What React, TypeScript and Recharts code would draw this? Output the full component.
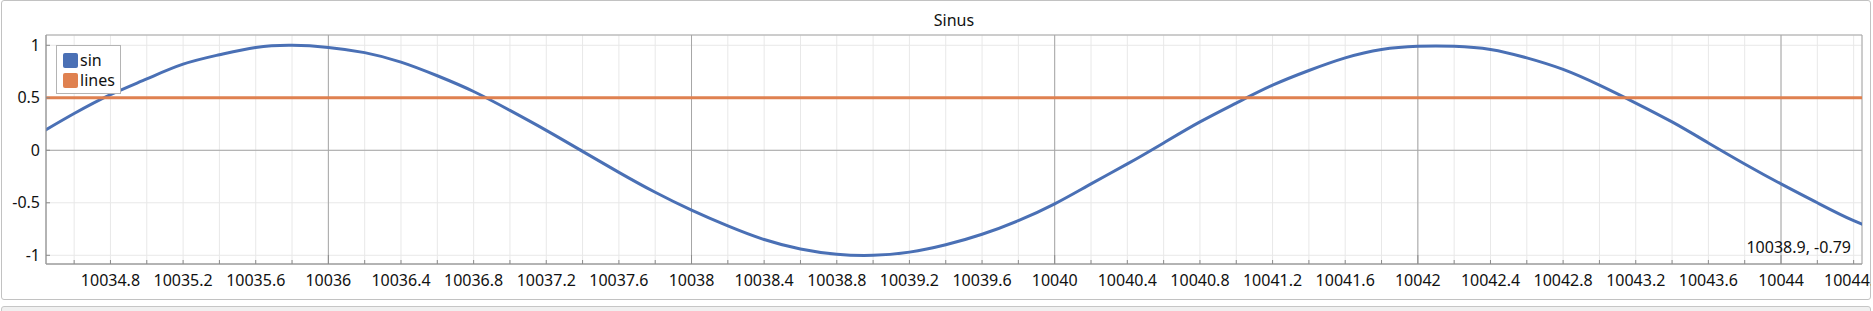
import React from "react";
import {
  LineChart,
  Line,
  XAxis,
  YAxis,
  CartesianGrid,
  ReferenceLine,
  ReferenceArea,
  Label,
  Legend,
} from "recharts";

// values
const xValues = [
  10034.4, 10034.6, 10034.8, 10035, 10035.2, 10035.4, 10035.6, 10035.8, 10036, 10036.2,
  10036.4, 10036.6, 10036.8, 10037, 10037.2, 10037.4, 10037.6, 10037.8, 10038, 10038.2,
  10038.4, 10038.6, 10038.8, 10039, 10039.2, 10039.4, 10039.6, 10039.8, 10040, 10040.2,
  10040.4, 10040.6, 10040.8, 10041, 10041.2, 10041.4, 10041.6, 10041.8, 10042, 10042.2,
  10042.4, 10042.6, 10042.8, 10043, 10043.2, 10043.4, 10043.6, 10043.8, 10044, 10044.2,
  10044.4, 10044.6,
];
const sinValues = [
  0.15, 0.35, 0.53, 0.68, 0.82, 0.91, 0.98, 1.0, 0.98, 0.93,
  0.84, 0.71, 0.56, 0.38, 0.19, -0.01, -0.21, -0.4, -0.57, -0.72,
  -0.85, -0.94, -0.99, -1.0, -0.97, -0.9, -0.8, -0.67, -0.51, -0.32,
  -0.13, 0.07, 0.27, 0.45, 0.62, 0.76, 0.88, 0.96, 0.99, 0.99,
  0.96, 0.88, 0.77, 0.62, 0.45, 0.27, 0.07, -0.13, -0.32, -0.5,
  -0.67, -0.8,
];
const linesX = [10034.4, 10044.6];
const linesValues = [0.5, 0.5];

const seriesNames = ["sin", "lines"];

const xTicks = [
  10034.6, 10034.8, 10035, 10035.2, 10035.4, 10035.6, 10035.8, 10036, 10036.2, 10036.4,
  10036.6, 10036.8, 10037, 10037.2, 10037.4, 10037.6, 10037.8, 10038, 10038.2, 10038.4,
  10038.6, 10038.8, 10039, 10039.2, 10039.4, 10039.6, 10039.8, 10040, 10040.2, 10040.4,
  10040.6, 10040.8, 10041, 10041.2, 10041.4, 10041.6, 10041.8, 10042, 10042.2, 10042.4,
  10042.6, 10042.8, 10043, 10043.2, 10043.4, 10043.6, 10043.8, 10044, 10044.2, 10044.4,
];
const majorX = [10036, 10038, 10040, 10042, 10044];
const yTicks = [-1, -0.5, 0, 0.5, 1];
const xDomain = [10034.445, 10044.446];
const yDomain = [-1.083, 1.098];

const title = "Sinus";
const cursorText = "10038.9, -0.79";

const sinData = xValues.map((x, i) => ({ x, y: sinValues[i] }));
const linesData = linesX.map((x, i) => ({ x, y: linesValues[i] }));

const FONT = '"Noto Sans", "Open Sans", sans-serif';
const TEXT = "#111";
const TICK = "#8c8c8c";

const isMajor = (v: number) => majorX.some((m) => Math.abs(m - v) < 1e-6);
const isLabelled = (v: number) => Math.round(v * 10) % 4 === 0;

function XTick(props: any) {
  const { x, y, payload } = props;
  const v = payload.value as number;
  return (
    <g>
      <line x1={x} x2={x} y1={y} y2={y - (isMajor(v) ? 9 : 4)} stroke={TICK} />
      {isLabelled(v) && (
        <text x={x} y={y + 22} textAnchor="middle" fontSize={16} fontFamily={FONT} fill={TEXT}>
          {String(Number(v.toFixed(1)))}
        </text>
      )}
    </g>
  );
}

function YTick(props: any) {
  const { x, y, payload } = props;
  return (
    <g>
      <line x1={x} x2={x + 4} y1={y} y2={y} stroke={TICK} />
      <text x={x - 6} y={y + 5.5} textAnchor="end" fontSize={16} fontFamily={FONT} fill={TEXT}>
        {String(payload.value)}
      </text>
    </g>
  );
}

function LegendBox(props: any) {
  const payload = [...(props.payload || [])].sort(
    (a: any, b: any) => seriesNames.indexOf(a.value) - seriesNames.indexOf(b.value)
  );
  return (
    <div
      style={{
        border: "1px solid #b4b4b4",
        background: "#fff",
        padding: "4px 5px 3px 6px",
        fontFamily: FONT,
        fontSize: 16,
        color: TEXT,
      }}
    >
      {payload.map((p: any) => (
        <div key={p.value} style={{ display: "flex", alignItems: "center", height: 20 }}>
          <span
            style={{
              display: "inline-block",
              width: 15,
              height: 15,
              background: p.color,
              borderRadius: 2,
              marginRight: 2,
            }}
          />
          <span style={{ lineHeight: "20px" }}>{p.value}</span>
        </div>
      ))}
    </div>
  );
}

export default function App() {
  return (
    <div style={{ position: "absolute", left: 0, top: 0, width: 1873, height: 311, background: "#fff", fontFamily: FONT }}>
      <div
        style={{
          position: "absolute",
          left: 1,
          top: 0,
          width: 1870,
          height: 300,
          boxSizing: "border-box",
          border: "1px solid #c2c2c2",
          borderRadius: 3,
          background: "#fff",
        }}
      />
      <div
        style={{
          position: "absolute",
          left: 1,
          top: 306,
          width: 1870,
          height: 14,
          boxSizing: "border-box",
          border: "1px solid #c6c6c6",
          borderRadius: 3,
          background: "#f0f0f0",
        }}
      />
      <div
        style={{
          position: "absolute",
          left: 46,
          width: 1816,
          top: 10,
          textAlign: "center",
          fontSize: 16,
          lineHeight: "20px",
          color: TEXT,
        }}
      >
        {title}
      </div>
      <div style={{ position: "absolute", left: 0, top: 0, width: 1871, height: 299, overflow: "hidden" }}>
        <LineChart width={1873} height={300} margin={{ top: 35, right: 11, bottom: 6, left: 0 }}>
          <CartesianGrid stroke="#e8e8e8" />
          {majorX.map((v) => (
            <ReferenceLine key={v} x={v} stroke="#a6a6a6" />
          ))}
          <ReferenceLine y={0} stroke="#a6a6a6" />
          <XAxis
            dataKey="x"
            type="number"
            domain={xDomain}
            allowDataOverflow
            ticks={xTicks}
            interval={0}
            tickSize={0}
            tickMargin={0}
            tickLine={false}
            axisLine={{ stroke: "#9a9a9a" }}
            tick={<XTick />}
            height={30}
          />
          <YAxis
            type="number"
            domain={yDomain}
            allowDataOverflow
            ticks={yTicks}
            interval={0}
            tickSize={0}
            tickMargin={0}
            tickLine={false}
            axisLine={{ stroke: "#9a9a9a" }}
            tick={<YTick />}
            width={46}
          />
          <ReferenceArea
            x1={xDomain[0]}
            x2={xDomain[1]}
            y1={yDomain[0]}
            y2={yDomain[1]}
            fill="none"
            stroke="#a6a6a6"
            strokeOpacity={1}
          >
            <Label
              value={cursorText}
              position="insideBottomRight"
              offset={11}
              fontSize={16}
              fontFamily={FONT}
              fill={TEXT}
            />
          </ReferenceArea>
          <Line
            data={sinData}
            dataKey="y"
            name="sin"
            type="natural"
            stroke="#4A70B5"
            strokeWidth={3}
            dot={false}
            activeDot={false}
            isAnimationActive={false}
          />
          <Line
            data={linesData}
            dataKey="y"
            name="lines"
            type="linear"
            stroke="#DF8150"
            strokeWidth={3}
            dot={false}
            activeDot={false}
            isAnimationActive={false}
          />
          <Legend
            layout="vertical"
            align="center"
            verticalAlign="middle"
            wrapperStyle={{ left: 56, top: 45, width: "auto", height: "auto" }}
            content={<LegendBox />}
          />
        </LineChart>
      </div>
    </div>
  );
}
